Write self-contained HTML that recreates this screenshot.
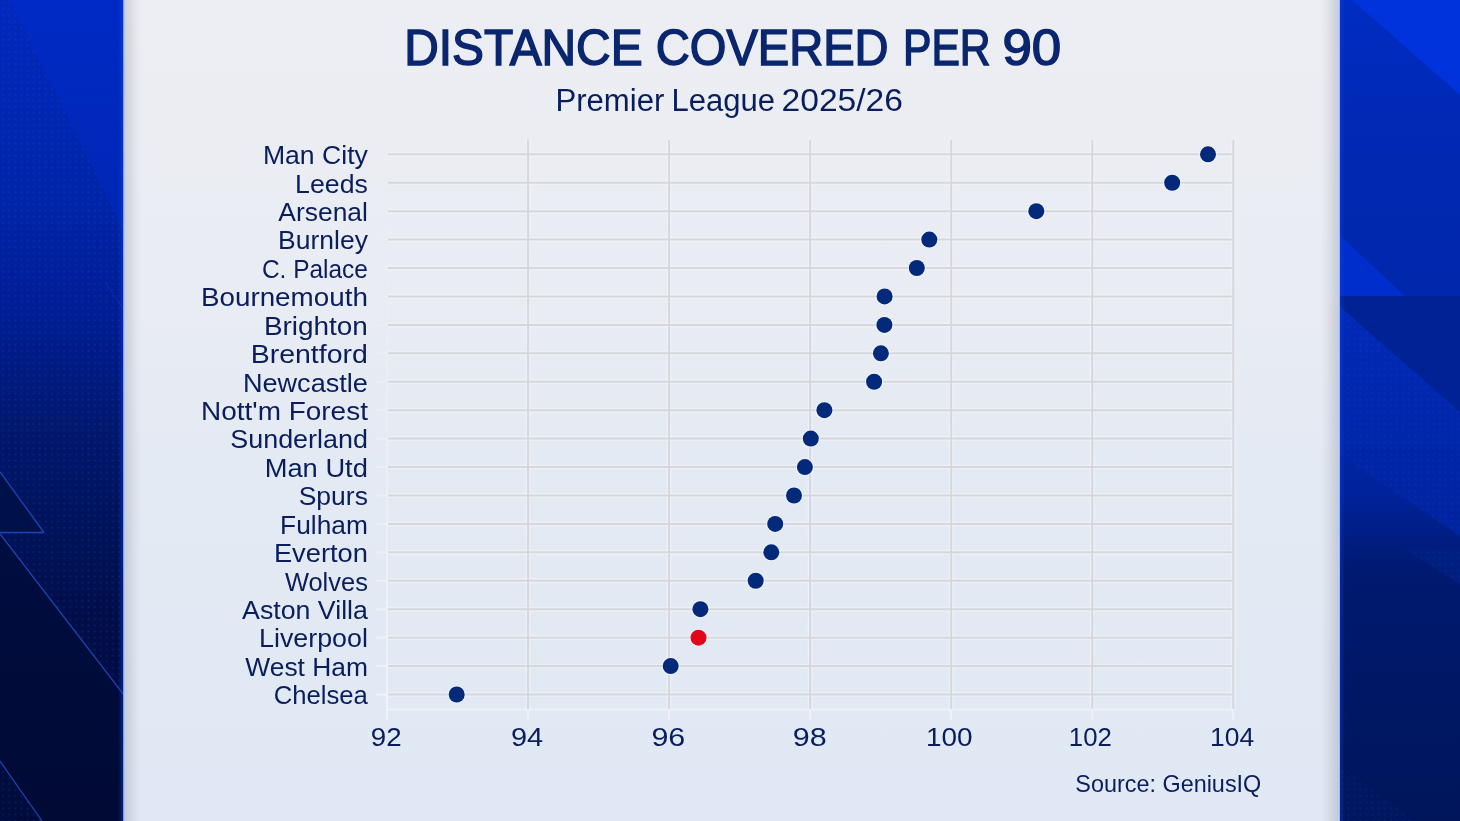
<!DOCTYPE html>
<html><head><meta charset="utf-8"><style>
html,body{margin:0;padding:0;width:1460px;height:821px;overflow:hidden;background:#001060;}
*{box-sizing:border-box;}
#card{position:absolute;left:124px;top:0;width:1215px;height:821px;background:linear-gradient(180deg,#eceef3 0%,#e9ecf3 35%,#e4eaf3 55%,#dfe8f4 100%);}
#shl{position:absolute;left:124px;top:0;width:18px;height:821px;background:linear-gradient(90deg,rgba(140,145,158,0.34) 0px,rgba(140,145,158,0.24) 5px,rgba(140,145,158,0.09) 11px,rgba(140,145,158,0) 17px);}
#shr{position:absolute;left:1319px;top:0;width:19px;height:821px;background:linear-gradient(270deg,rgba(140,145,158,0.34) 0px,rgba(140,145,158,0.24) 5px,rgba(140,145,158,0.09) 11px,rgba(140,145,158,0) 18px);}
#hll{position:absolute;left:123px;top:0;width:2px;height:821px;background:rgba(170,195,245,0.75);}
#hlr{position:absolute;left:1337.8px;top:0;width:2px;height:821px;background:rgba(185,205,245,0.85);}
svg{position:absolute;left:0;top:0;will-change:transform;}
#gl{position:absolute;left:118px;top:0;width:6px;height:821px;background:linear-gradient(90deg,rgba(20,70,235,0),rgba(20,70,235,0.45));}
#gr{position:absolute;left:1339px;top:0;width:6px;height:821px;background:linear-gradient(270deg,rgba(20,70,235,0),rgba(20,70,235,0.45));}
text{font-family:"Liberation Sans",sans-serif;fill:#0a1e5c;font-size:26.5px;}
.ax{font-size:26.5px;}
.src{font-size:24px;}
.ttl{font-size:50.5px;font-weight:normal;fill:#09266e;stroke:#09266e;stroke-width:1.5px;}
.sub{font-size:31px;}
</style></head><body>
<svg width="124" height="821" viewBox="0 0 124 821" style="position:absolute;left:0;top:0">
<defs>
<linearGradient id="lg1" x1="0" y1="0" x2="0" y2="821" gradientUnits="userSpaceOnUse">
<stop offset="0" stop-color="#0028bc"/><stop offset="0.23" stop-color="#0025aa"/><stop offset="0.38" stop-color="#001d94"/>
<stop offset="0.52" stop-color="#00186e"/><stop offset="0.64" stop-color="#00125a"/><stop offset="0.75" stop-color="#000e48"/><stop offset="1" stop-color="#000b3c"/>
</linearGradient>
<linearGradient id="lg2" x1="0" y1="0" x2="0" y2="240" gradientUnits="userSpaceOnUse">
<stop offset="0" stop-color="#002ac6"/><stop offset="1" stop-color="#0026b2"/>
</linearGradient>
<linearGradient id="lg3" x1="0" y1="534" x2="0" y2="821" gradientUnits="userSpaceOnUse">
<stop offset="0" stop-color="#000d40"/><stop offset="1" stop-color="#000a34"/>
</linearGradient>
<pattern id="dots" width="6.1" height="6.1" patternUnits="userSpaceOnUse">
<rect x="2.3" y="2.3" width="1.6" height="1.6" fill="#3060f0" opacity="0.22"/>
</pattern>
</defs>
<rect width="124" height="821" fill="url(#lg1)"/>
<rect width="124" height="821" fill="url(#dots)"/>
<polygon points="11,0 124,0 124,232" fill="url(#lg2)"/>
<polygon points="0,472 44,532.5 0,532.5" fill="#00114a"/>
<polygon points="0,534 124,695 124,821 42,821 0,761" fill="url(#lg3)"/>
<g stroke="#2a5ae0" stroke-width="1.3" fill="none" opacity="0.7">
<line x1="0" y1="472" x2="44" y2="532.5"/><line x1="0" y1="532.5" x2="44" y2="532.5"/>
<line x1="0" y1="534" x2="124" y2="695"/><line x1="0" y1="761" x2="42" y2="821"/>
</g>
<line x1="105" y1="282" x2="124" y2="310" stroke="#2d5fe8" stroke-width="1" opacity="0.3"/>
</svg>
<svg width="121" height="821" viewBox="0 0 121 821" style="position:absolute;left:1339px;top:0">
<defs>
<linearGradient id="rg1" x1="0" y1="0" x2="0" y2="821" gradientUnits="userSpaceOnUse">
<stop offset="0" stop-color="#002cc2"/><stop offset="0.15" stop-color="#0029b4"/><stop offset="0.45" stop-color="#0026a8"/>
<stop offset="0.6" stop-color="#00239c"/><stop offset="0.69" stop-color="#001a72"/><stop offset="0.79" stop-color="#001868"/><stop offset="1" stop-color="#00155a"/>
</linearGradient>
<pattern id="dots2" width="6.1" height="6.1" patternUnits="userSpaceOnUse">
<rect x="2.3" y="2.3" width="1.6" height="1.6" fill="#3060f0" opacity="0.16"/>
</pattern>
</defs>
<rect width="121" height="821" fill="url(#rg1)"/>
<polygon points="13,0 121,0 121,95" fill="#0033dc"/>
<polygon points="0,234.5 66,296 0,296" fill="#002ecc"/>
<polygon points="0,296 121,296 121,412 0,306" fill="#002294"/>
<linearGradient id="rg2" x1="0" y1="306" x2="0" y2="536" gradientUnits="userSpaceOnUse"><stop offset="0" stop-color="#002ab8"/><stop offset="1" stop-color="#00239e"/></linearGradient>
<polygon points="0,306 121,412 121,536 0,454.5" fill="url(#rg2)"/>
<polygon points="64,548 121,548 121,584" fill="#001e80"/>
<polygon points="0,764 77,821 0,821" fill="#00165e"/>
<polygon points="0,306 121,412 121,536 0,454.5" fill="url(#dots2)"/>
<polygon points="64,548 121,548 121,584" fill="url(#dots2)"/>
<polygon points="0,764 77,821 0,821" fill="url(#dots2)"/>
</svg>
<div id="gl"></div><div id="gr"></div>
<div id="card"></div>
<div id="shl"></div>
<div id="shr"></div>
<div id="hll"></div>
<div id="hlr"></div>
<svg width="1460" height="821" viewBox="0 0 1460 821">
<defs><linearGradient id="wl" x1="0" y1="140" x2="0" y2="720" gradientUnits="userSpaceOnUse"><stop offset="0" stop-color="#f2f5fa" stop-opacity="0"/><stop offset="0.5" stop-color="#f2f5fa" stop-opacity="0.35"/><stop offset="1" stop-color="#f2f5fa" stop-opacity="0.8"/></linearGradient></defs>
<rect x="386" y="140" width="2" height="580" fill="url(#wl)"/>
<line x1="376" y1="154.30" x2="387" y2="154.30" stroke="#f2f5fa" stroke-width="2" opacity="0.00"/>
<line x1="376" y1="182.73" x2="387" y2="182.73" stroke="#f2f5fa" stroke-width="2" opacity="0.04"/>
<line x1="376" y1="211.16" x2="387" y2="211.16" stroke="#f2f5fa" stroke-width="2" opacity="0.08"/>
<line x1="376" y1="239.59" x2="387" y2="239.59" stroke="#f2f5fa" stroke-width="2" opacity="0.13"/>
<line x1="376" y1="268.03" x2="387" y2="268.03" stroke="#f2f5fa" stroke-width="2" opacity="0.17"/>
<line x1="376" y1="296.46" x2="387" y2="296.46" stroke="#f2f5fa" stroke-width="2" opacity="0.21"/>
<line x1="376" y1="324.89" x2="387" y2="324.89" stroke="#f2f5fa" stroke-width="2" opacity="0.25"/>
<line x1="376" y1="353.32" x2="387" y2="353.32" stroke="#f2f5fa" stroke-width="2" opacity="0.30"/>
<line x1="376" y1="381.75" x2="387" y2="381.75" stroke="#f2f5fa" stroke-width="2" opacity="0.34"/>
<line x1="376" y1="410.18" x2="387" y2="410.18" stroke="#f2f5fa" stroke-width="2" opacity="0.38"/>
<line x1="376" y1="438.62" x2="387" y2="438.62" stroke="#f2f5fa" stroke-width="2" opacity="0.42"/>
<line x1="376" y1="467.05" x2="387" y2="467.05" stroke="#f2f5fa" stroke-width="2" opacity="0.46"/>
<line x1="376" y1="495.48" x2="387" y2="495.48" stroke="#f2f5fa" stroke-width="2" opacity="0.51"/>
<line x1="376" y1="523.91" x2="387" y2="523.91" stroke="#f2f5fa" stroke-width="2" opacity="0.55"/>
<line x1="376" y1="552.34" x2="387" y2="552.34" stroke="#f2f5fa" stroke-width="2" opacity="0.59"/>
<line x1="376" y1="580.77" x2="387" y2="580.77" stroke="#f2f5fa" stroke-width="2" opacity="0.63"/>
<line x1="376" y1="609.21" x2="387" y2="609.21" stroke="#f2f5fa" stroke-width="2" opacity="0.67"/>
<line x1="376" y1="637.64" x2="387" y2="637.64" stroke="#f2f5fa" stroke-width="2" opacity="0.72"/>
<line x1="376" y1="666.07" x2="387" y2="666.07" stroke="#f2f5fa" stroke-width="2" opacity="0.76"/>
<line x1="376" y1="694.50" x2="387" y2="694.50" stroke="#f2f5fa" stroke-width="2" opacity="0.80"/>
<line x1="387" y1="709.5" x2="1233" y2="709.5" stroke="#f2f5fa" stroke-width="2" opacity="0.75"/>
<line x1="528.05" y1="709" x2="528.05" y2="720" stroke="#f2f5fa" stroke-width="2" opacity="0.75"/>
<line x1="669.10" y1="709" x2="669.10" y2="720" stroke="#f2f5fa" stroke-width="2" opacity="0.75"/>
<line x1="810.15" y1="709" x2="810.15" y2="720" stroke="#f2f5fa" stroke-width="2" opacity="0.75"/>
<line x1="951.20" y1="709" x2="951.20" y2="720" stroke="#f2f5fa" stroke-width="2" opacity="0.75"/>
<line x1="1092.25" y1="709" x2="1092.25" y2="720" stroke="#f2f5fa" stroke-width="2" opacity="0.75"/>
<line x1="1233.30" y1="709" x2="1233.30" y2="720" stroke="#f2f5fa" stroke-width="2" opacity="0.75"/>
<line x1="388" y1="154.30" x2="1232" y2="154.30" stroke="#f4f5f9" stroke-width="5" opacity="0.5"/>
<line x1="388" y1="182.73" x2="1232" y2="182.73" stroke="#f4f5f9" stroke-width="5" opacity="0.5"/>
<line x1="388" y1="211.16" x2="1232" y2="211.16" stroke="#f4f5f9" stroke-width="5" opacity="0.5"/>
<line x1="388" y1="239.59" x2="1232" y2="239.59" stroke="#f4f5f9" stroke-width="5" opacity="0.5"/>
<line x1="388" y1="268.03" x2="1232" y2="268.03" stroke="#f4f5f9" stroke-width="5" opacity="0.5"/>
<line x1="388" y1="296.46" x2="1232" y2="296.46" stroke="#f4f5f9" stroke-width="5" opacity="0.5"/>
<line x1="388" y1="324.89" x2="1232" y2="324.89" stroke="#f4f5f9" stroke-width="5" opacity="0.5"/>
<line x1="388" y1="353.32" x2="1232" y2="353.32" stroke="#f4f5f9" stroke-width="5" opacity="0.5"/>
<line x1="388" y1="381.75" x2="1232" y2="381.75" stroke="#f4f5f9" stroke-width="5" opacity="0.5"/>
<line x1="388" y1="410.18" x2="1232" y2="410.18" stroke="#f4f5f9" stroke-width="5" opacity="0.5"/>
<line x1="388" y1="438.62" x2="1232" y2="438.62" stroke="#f4f5f9" stroke-width="5" opacity="0.5"/>
<line x1="388" y1="467.05" x2="1232" y2="467.05" stroke="#f4f5f9" stroke-width="5" opacity="0.5"/>
<line x1="388" y1="495.48" x2="1232" y2="495.48" stroke="#f4f5f9" stroke-width="5" opacity="0.5"/>
<line x1="388" y1="523.91" x2="1232" y2="523.91" stroke="#f4f5f9" stroke-width="5" opacity="0.5"/>
<line x1="388" y1="552.34" x2="1232" y2="552.34" stroke="#f4f5f9" stroke-width="5" opacity="0.5"/>
<line x1="388" y1="580.77" x2="1232" y2="580.77" stroke="#f4f5f9" stroke-width="5" opacity="0.5"/>
<line x1="388" y1="609.21" x2="1232" y2="609.21" stroke="#f4f5f9" stroke-width="5" opacity="0.5"/>
<line x1="388" y1="637.64" x2="1232" y2="637.64" stroke="#f4f5f9" stroke-width="5" opacity="0.5"/>
<line x1="388" y1="666.07" x2="1232" y2="666.07" stroke="#f4f5f9" stroke-width="5" opacity="0.5"/>
<line x1="388" y1="694.50" x2="1232" y2="694.50" stroke="#f4f5f9" stroke-width="5" opacity="0.5"/>
<line x1="528.05" y1="140" x2="528.05" y2="709" stroke="#f4f5f9" stroke-width="5" opacity="0.5"/>
<line x1="669.10" y1="140" x2="669.10" y2="709" stroke="#f4f5f9" stroke-width="5" opacity="0.5"/>
<line x1="810.15" y1="140" x2="810.15" y2="709" stroke="#f4f5f9" stroke-width="5" opacity="0.5"/>
<line x1="951.20" y1="140" x2="951.20" y2="709" stroke="#f4f5f9" stroke-width="5" opacity="0.5"/>
<line x1="1092.25" y1="140" x2="1092.25" y2="709" stroke="#f4f5f9" stroke-width="5" opacity="0.5"/>
<line x1="1233.30" y1="140" x2="1233.30" y2="709" stroke="#f4f5f9" stroke-width="5" opacity="0.5"/>
<line x1="388" y1="154.30" x2="1232" y2="154.30" stroke="#d5d7dc" stroke-width="2"/>
<line x1="388" y1="182.73" x2="1232" y2="182.73" stroke="#d5d7dc" stroke-width="2"/>
<line x1="388" y1="211.16" x2="1232" y2="211.16" stroke="#d5d7dc" stroke-width="2"/>
<line x1="388" y1="239.59" x2="1232" y2="239.59" stroke="#d5d7dc" stroke-width="2"/>
<line x1="388" y1="268.03" x2="1232" y2="268.03" stroke="#d5d7dc" stroke-width="2"/>
<line x1="388" y1="296.46" x2="1232" y2="296.46" stroke="#d5d7dc" stroke-width="2"/>
<line x1="388" y1="324.89" x2="1232" y2="324.89" stroke="#d5d7dc" stroke-width="2"/>
<line x1="388" y1="353.32" x2="1232" y2="353.32" stroke="#d5d7dc" stroke-width="2"/>
<line x1="388" y1="381.75" x2="1232" y2="381.75" stroke="#d5d7dc" stroke-width="2"/>
<line x1="388" y1="410.18" x2="1232" y2="410.18" stroke="#d5d7dc" stroke-width="2"/>
<line x1="388" y1="438.62" x2="1232" y2="438.62" stroke="#d5d7dc" stroke-width="2"/>
<line x1="388" y1="467.05" x2="1232" y2="467.05" stroke="#d5d7dc" stroke-width="2"/>
<line x1="388" y1="495.48" x2="1232" y2="495.48" stroke="#d5d7dc" stroke-width="2"/>
<line x1="388" y1="523.91" x2="1232" y2="523.91" stroke="#d5d7dc" stroke-width="2"/>
<line x1="388" y1="552.34" x2="1232" y2="552.34" stroke="#d5d7dc" stroke-width="2"/>
<line x1="388" y1="580.77" x2="1232" y2="580.77" stroke="#d5d7dc" stroke-width="2"/>
<line x1="388" y1="609.21" x2="1232" y2="609.21" stroke="#d5d7dc" stroke-width="2"/>
<line x1="388" y1="637.64" x2="1232" y2="637.64" stroke="#d5d7dc" stroke-width="2"/>
<line x1="388" y1="666.07" x2="1232" y2="666.07" stroke="#d5d7dc" stroke-width="2"/>
<line x1="388" y1="694.50" x2="1232" y2="694.50" stroke="#d5d7dc" stroke-width="2"/>
<line x1="528.05" y1="140" x2="528.05" y2="709" stroke="#d5d7dc" stroke-width="2"/>
<line x1="669.10" y1="140" x2="669.10" y2="709" stroke="#d5d7dc" stroke-width="2"/>
<line x1="810.15" y1="140" x2="810.15" y2="709" stroke="#d5d7dc" stroke-width="2"/>
<line x1="951.20" y1="140" x2="951.20" y2="709" stroke="#d5d7dc" stroke-width="2"/>
<line x1="1092.25" y1="140" x2="1092.25" y2="709" stroke="#d5d7dc" stroke-width="2"/>
<line x1="1233.30" y1="140" x2="1233.30" y2="709" stroke="#d5d7dc" stroke-width="2"/>
<circle cx="1208.0" cy="154.30" r="9.2" fill="#f4f7fc" opacity="0.6"/>
<circle cx="1208.0" cy="154.30" r="8" fill="#03297a"/>
<circle cx="1172.2" cy="182.73" r="9.2" fill="#f4f7fc" opacity="0.6"/>
<circle cx="1172.2" cy="182.73" r="8" fill="#03297a"/>
<circle cx="1036.3" cy="211.16" r="9.2" fill="#f4f7fc" opacity="0.6"/>
<circle cx="1036.3" cy="211.16" r="8" fill="#03297a"/>
<circle cx="929.3" cy="239.59" r="9.2" fill="#f4f7fc" opacity="0.6"/>
<circle cx="929.3" cy="239.59" r="8" fill="#03297a"/>
<circle cx="916.8" cy="268.03" r="9.2" fill="#f4f7fc" opacity="0.6"/>
<circle cx="916.8" cy="268.03" r="8" fill="#03297a"/>
<circle cx="884.6" cy="296.46" r="9.2" fill="#f4f7fc" opacity="0.6"/>
<circle cx="884.6" cy="296.46" r="8" fill="#03297a"/>
<circle cx="884.4" cy="324.89" r="9.2" fill="#f4f7fc" opacity="0.6"/>
<circle cx="884.4" cy="324.89" r="8" fill="#03297a"/>
<circle cx="880.9" cy="353.32" r="9.2" fill="#f4f7fc" opacity="0.6"/>
<circle cx="880.9" cy="353.32" r="8" fill="#03297a"/>
<circle cx="874.1" cy="381.75" r="9.2" fill="#f4f7fc" opacity="0.6"/>
<circle cx="874.1" cy="381.75" r="8" fill="#03297a"/>
<circle cx="824.4" cy="410.18" r="9.2" fill="#f4f7fc" opacity="0.6"/>
<circle cx="824.4" cy="410.18" r="8" fill="#03297a"/>
<circle cx="810.8" cy="438.62" r="9.2" fill="#f4f7fc" opacity="0.6"/>
<circle cx="810.8" cy="438.62" r="8" fill="#03297a"/>
<circle cx="804.9" cy="467.05" r="9.2" fill="#f4f7fc" opacity="0.6"/>
<circle cx="804.9" cy="467.05" r="8" fill="#03297a"/>
<circle cx="794.0" cy="495.48" r="9.2" fill="#f4f7fc" opacity="0.6"/>
<circle cx="794.0" cy="495.48" r="8" fill="#03297a"/>
<circle cx="775.2" cy="523.91" r="9.2" fill="#f4f7fc" opacity="0.6"/>
<circle cx="775.2" cy="523.91" r="8" fill="#03297a"/>
<circle cx="771.3" cy="552.34" r="9.2" fill="#f4f7fc" opacity="0.6"/>
<circle cx="771.3" cy="552.34" r="8" fill="#03297a"/>
<circle cx="755.7" cy="580.77" r="9.2" fill="#f4f7fc" opacity="0.6"/>
<circle cx="755.7" cy="580.77" r="8" fill="#03297a"/>
<circle cx="700.4" cy="609.21" r="9.2" fill="#f4f7fc" opacity="0.6"/>
<circle cx="700.4" cy="609.21" r="8" fill="#03297a"/>
<circle cx="698.5" cy="637.64" r="9.2" fill="#f4f7fc" opacity="0.6"/>
<circle cx="698.5" cy="637.64" r="8" fill="#e3061b"/>
<circle cx="670.7" cy="666.07" r="9.2" fill="#f4f7fc" opacity="0.6"/>
<circle cx="670.7" cy="666.07" r="8" fill="#03297a"/>
<circle cx="456.7" cy="694.50" r="9.2" fill="#f4f7fc" opacity="0.6"/>
<circle cx="456.7" cy="694.50" r="8" fill="#03297a"/>
<text x="367.9" y="164.10" text-anchor="end" textLength="105.0" lengthAdjust="spacingAndGlyphs">Man City</text>
<text x="367.9" y="192.53" text-anchor="end" textLength="72.8" lengthAdjust="spacingAndGlyphs">Leeds</text>
<text x="367.9" y="220.96" text-anchor="end" textLength="89.6" lengthAdjust="spacingAndGlyphs">Arsenal</text>
<text x="367.9" y="249.39" text-anchor="end" textLength="89.8" lengthAdjust="spacingAndGlyphs">Burnley</text>
<text x="367.9" y="277.83" text-anchor="end" textLength="106.0" lengthAdjust="spacingAndGlyphs">C. Palace</text>
<text x="367.9" y="306.26" text-anchor="end" textLength="167.0" lengthAdjust="spacingAndGlyphs">Bournemouth</text>
<text x="367.9" y="334.69" text-anchor="end" textLength="104.0" lengthAdjust="spacingAndGlyphs">Brighton</text>
<text x="367.9" y="363.12" text-anchor="end" textLength="117.2" lengthAdjust="spacingAndGlyphs">Brentford</text>
<text x="367.9" y="391.55" text-anchor="end" textLength="125.0" lengthAdjust="spacingAndGlyphs">Newcastle</text>
<text x="367.9" y="419.98" text-anchor="end" textLength="166.8" lengthAdjust="spacingAndGlyphs">Nott&#39;m Forest</text>
<text x="367.9" y="448.42" text-anchor="end" textLength="137.6" lengthAdjust="spacingAndGlyphs">Sunderland</text>
<text x="367.9" y="476.85" text-anchor="end" textLength="103.2" lengthAdjust="spacingAndGlyphs">Man Utd</text>
<text x="367.9" y="505.28" text-anchor="end" textLength="69.2" lengthAdjust="spacingAndGlyphs">Spurs</text>
<text x="367.9" y="533.71" text-anchor="end" textLength="87.8" lengthAdjust="spacingAndGlyphs">Fulham</text>
<text x="367.9" y="562.14" text-anchor="end" textLength="94.0" lengthAdjust="spacingAndGlyphs">Everton</text>
<text x="367.9" y="590.57" text-anchor="end" textLength="83.0" lengthAdjust="spacingAndGlyphs">Wolves</text>
<text x="367.9" y="619.01" text-anchor="end" textLength="125.8" lengthAdjust="spacingAndGlyphs">Aston Villa</text>
<text x="367.9" y="647.44" text-anchor="end" textLength="108.8" lengthAdjust="spacingAndGlyphs">Liverpool</text>
<text x="367.9" y="675.87" text-anchor="end" textLength="122.6" lengthAdjust="spacingAndGlyphs">West Ham</text>
<text x="367.9" y="704.30" text-anchor="end" textLength="94.2" lengthAdjust="spacingAndGlyphs">Chelsea</text>
<text x="370.80" y="745.9" class="ax" textLength="30.80" lengthAdjust="spacingAndGlyphs">92</text>
<text x="510.90" y="745.9" class="ax" textLength="32.20" lengthAdjust="spacingAndGlyphs">94</text>
<text x="651.40" y="745.9" class="ax" textLength="33.90" lengthAdjust="spacingAndGlyphs">96</text>
<text x="792.70" y="745.9" class="ax" textLength="33.90" lengthAdjust="spacingAndGlyphs">98</text>
<text x="925.90" y="745.9" class="ax" textLength="46.60" lengthAdjust="spacingAndGlyphs">100</text>
<text x="1068.80" y="745.9" class="ax" textLength="43.00" lengthAdjust="spacingAndGlyphs">102</text>
<text x="1210.00" y="745.9" class="ax" textLength="44.10" lengthAdjust="spacingAndGlyphs">104</text>
<text x="1075.30" y="792.1" class="src" textLength="186.00" lengthAdjust="spacingAndGlyphs">Source: GeniusIQ</text>
<text x="555.40" y="110.9" class="sub" textLength="108.90" lengthAdjust="spacingAndGlyphs">Premier</text>
<text x="671.50" y="110.9" class="sub" textLength="103.60" lengthAdjust="spacingAndGlyphs">League</text>
<text x="781.50" y="110.9" class="sub" textLength="121.50" lengthAdjust="spacingAndGlyphs">2025/26</text>
<text x="404.2" y="65.2" class="ttl" textLength="238.4" lengthAdjust="spacingAndGlyphs">DISTANCE</text>
<text x="655.8" y="65.2" class="ttl" textLength="232.8" lengthAdjust="spacingAndGlyphs">COVERED</text>
<text x="903.0" y="65.2" class="ttl" textLength="87.6" lengthAdjust="spacingAndGlyphs">PER</text>
<text x="1002.4" y="65.2" class="ttl" textLength="58.8" lengthAdjust="spacingAndGlyphs">90</text>
</svg>
</body></html>
